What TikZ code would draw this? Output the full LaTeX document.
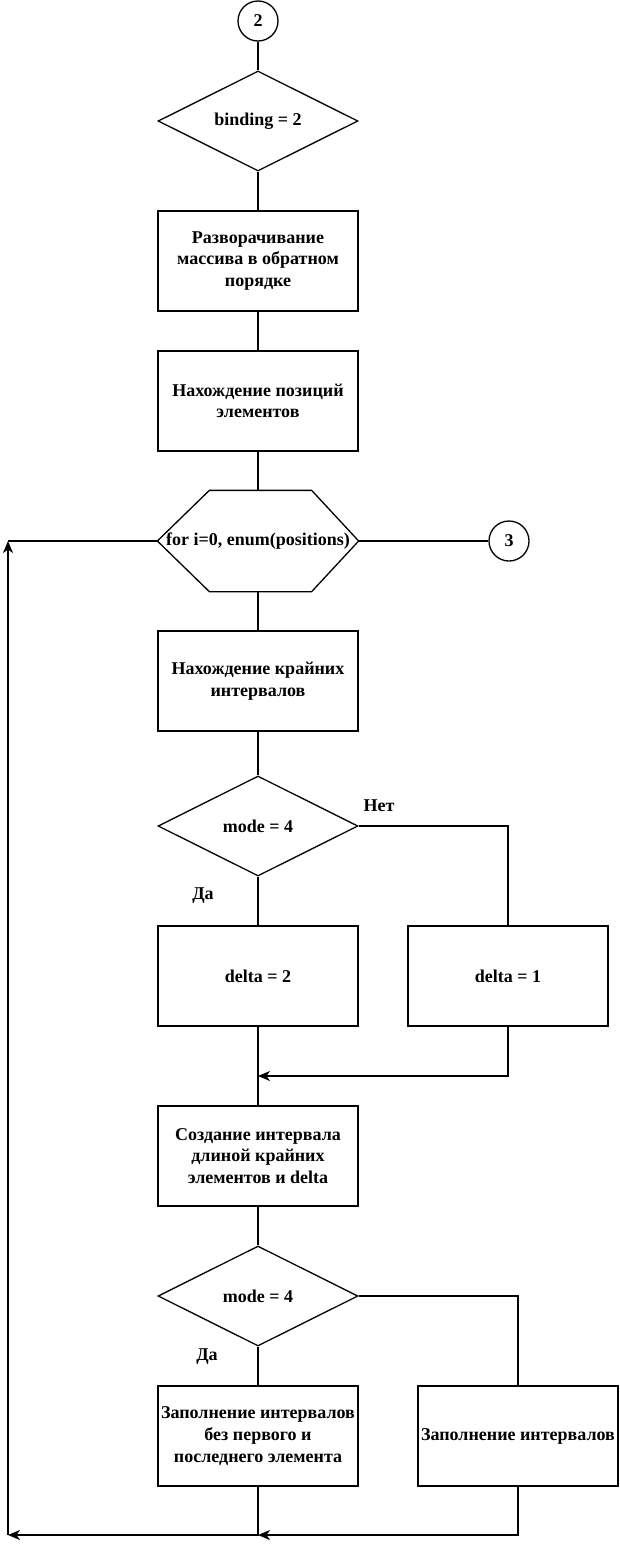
\documentclass[tikz,border=0pt]{standalone}
\usepackage{fontspec}
\setmainfont{Liberation Serif}
\usetikzlibrary{shapes.geometric,arrows.meta,calc}
\begin{document}
\begin{tikzpicture}[x=1pt,y=-1pt,line width=1.3pt,
  every node/.style={font=\fontsize{18}{21.7}\selectfont\bfseries, align=center},
  proc/.style={draw, rectangle, minimum width=200pt, minimum height=100pt, inner sep=0pt},
  dec/.style={draw, diamond, aspect=2, minimum width=200pt, minimum height=100pt, inner sep=0pt},
  conn/.style={draw, circle, minimum size=40pt, inner sep=0pt},
  lbl/.style={inner sep=0pt},
  arr/.style={-{Stealth[length=12pt,width=10pt,inset=3.5pt]}}]
\useasboundingbox (0,0) rectangle (619,1545);
\node[conn] (c2) at (258,21) {2};
\node[dec] (d1) at (258,121) {binding = 2};
\node[proc] (b1) at (258,261) {Разворачивание\\массива в обратном\\порядке};
\node[proc] (b2) at (258,401) {Нахождение позиций\\элементов};
\node[minimum width=200pt, minimum height=100pt, inner sep=0pt] (hex) at (258,541) {for i=0, enum(positions)};
\draw (hex.west) -- ($(hex.north west)+(52,0)$) -- ($(hex.north east)+(-47,0)$) -- (hex.east)
      -- ($(hex.south east)+(-47,0)$) -- ($(hex.south west)+(52,0)$) -- cycle;
\node[conn] (c3) at (509,541) {3};
\node[proc] (b3) at (258,681) {Нахождение крайних\\интервалов};
\node[dec] (d2) at (258,826) {mode = 4};
\node[lbl] (net) at (379,806) {Нет};
\node[lbl] (da1) at (203,896) {Да};
\node[proc] (b4) at (258,976) {delta = 2};
\node[proc] (b5) at (508,976) {delta = 1};
\coordinate (m1) at (258,1076);
\node[proc] (b6) at (258,1156) {Создание интервала\\длиной крайних\\элементов и delta};
\node[dec] (d3) at (258,1296) {mode = 4};
\node[lbl] (da2) at (207,1357) {Да};
\node[proc] (b7) at (258,1436) {Заполнение интервалов\\без первого и\\последнего элемента};
\node[proc] (b8) at (518,1436) {Заполнение интервалов};
\coordinate (m2) at (258,1535);
\coordinate (lb) at (8,1535);
\coordinate (lt) at (8,541);

\draw (c2) -- (d1);
\draw (d1) -- (b1);
\draw (b1) -- (b2);
\draw (b2) -- (hex);
\draw (hex) -- (c3);
\draw (hex) -- (b3);
\draw (b3) -- (d2);
\draw (d2.east) -| (b5.north);
\draw (d2.south) -- (b4.north);
\draw (b4.south) -- (b6.north);
\draw[arr] (b5.south) |- (m1);
\draw (b6) -- (d3);
\draw (d3.south) -- (b7.north);
\draw (d3.east) -| (b8.north);
\draw[arr] (b8.south) |- (m2);
\draw[arr] (b7.south) |- (lb);
\draw[arr] (lb) -- (lt);
\draw (hex.west) -- (lt);
\end{tikzpicture}
\end{document}
